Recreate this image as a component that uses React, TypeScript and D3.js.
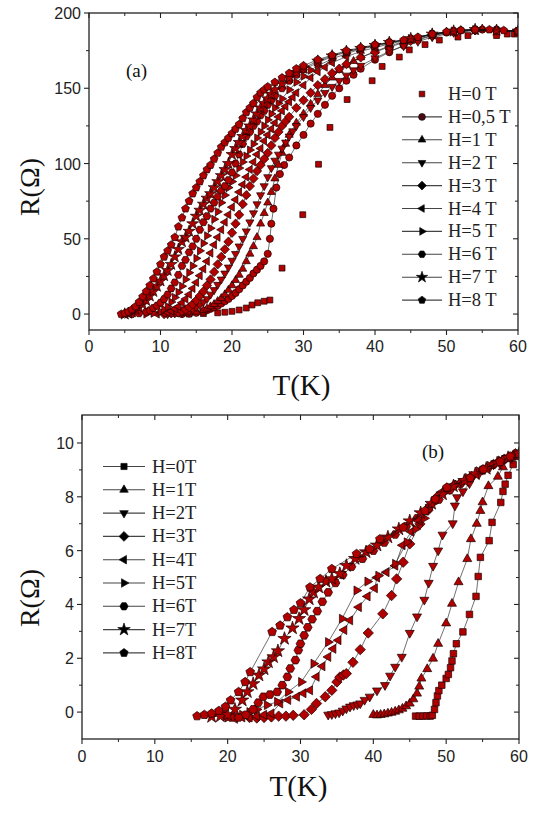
import React from 'react';
import * as d3 from 'd3';

type Pt = [number, number];

// ---------- panel (a): R (Ohm) vs T (K) ----------
const aLabels = ['H=0 T', 'H=0,5 T', 'H=1 T', 'H=2 T', 'H=3 T', 'H=4 T', 'H=5 T', 'H=6 T', 'H=7 T', 'H=8 T'];
const aShapes = ['square', 'circle', 'up', 'down', 'diamond', 'left', 'right', 'hexagon', 'star', 'pentagon'];

const aH0: Pt[] = [[14,0],[16,0.3],[18,0.8],[19,1.2],[20,1.8],[21,2.7],[22,4],[22.8,6],[23.6,7.5],[24.5,8.5],[25.3,9.3],[27,30.5],[29.9,66],[32.1,99.5],[33.7,124],[36.1,142.5],[39.6,155],[41,164.5],[43.4,170.7],[44.8,175.5],[47,179],[49,182],[51.6,184],[53,185],[57,185],[58.5,186],[59.5,186]];
const aH05: Pt[] = [[13,0],[14,0.3],[15,0.8],[16,1.5],[16.5,2.5],[17,3.5],[17.5,4.5],[18,5.5],[18.5,7],[19,8.5],[19.5,10],[20,12],[20.5,14],[21,16.5],[21.5,19],[22,21.5],[22.5,24],[23,27],[23.5,29.5],[24,32],[24.5,35],[25,40],[25.3,50],[25.5,60],[25.8,70],[26.2,84],[26.7,93],[27.3,99],[28,104],[29,112],[30,119],[31,126.5],[32,133],[33,139],[34,145],[35,150],[36,155],[37,159],[38,163],[40,169],[42,174],[44,178.5],[46,182],[48,185],[50,187],[52,188.5],[55,189],[57,188.5],[60,187.5]];
const aH1: Pt[] = [[12,0],[13,0.5],[14,1],[15,1.5],[16,2.5],[16.5,3.5],[17,5],[17.5,6.5],[18,8.5],[18.5,10.5],[19,13],[19.5,16],[20,19],[20.5,22.5],[21,26],[21.5,30],[22,35],[22.5,40],[23,45],[23.5,51],[24,60],[24.5,67],[25,74],[25.5,81],[26,90],[26.5,99],[27,107],[27.5,113],[28,119],[29,127],[30,133],[31,139.5],[32,146],[33,152],[34,157],[35,162],[36,165.5],[37,168],[38,170.5],[40,174.5],[42,178],[44,181],[46,183.5],[48,186],[50,187.5],[52,188.5],[55,189.5],[57,189],[60,188]];
const aH2: Pt[] = [[11,0],[12,0.5],[13,1],[14,2],[14.5,3],[15,4.5],[15.5,6],[16,8],[16.5,10],[17,13],[17.5,16],[18,19.5],[18.5,23],[19,27],[19.5,31],[20,35.5],[20.5,40],[21,45],[21.5,50],[22,55],[22.5,61],[23,67],[23.5,73],[24,79],[24.5,85],[25,91],[25.5,97],[26,102],[26.5,106],[27,110],[27.5,114],[28,118],[28.5,121.5],[29,125],[30,131],[31,137],[32,142],[33,147],[34,151],[35,155],[36,158.5],[37,162],[38,165],[40,170],[42,174.5],[44,178],[46,181],[48,184],[51,187],[54,188.5],[57,188.5],[60,188]];
const aH3: Pt[] = [[10.5,0],[11.5,0.5],[12.5,1],[13,2],[13.5,3],[14,4.5],[14.5,6.5],[15,9],[15.5,12],[16,15],[16.5,19],[17,23],[17.5,28],[18,33],[18.5,38],[19,43],[19.5,48],[20,54],[20.5,60],[21,66],[21.5,73],[22,79],[22.5,85],[23,90],[23.5,95],[24,99],[24.5,103],[25,107],[25.5,112],[26,117],[26.5,121],[27,125],[27.5,128],[28,131],[29,137],[30,142],[31,147],[32,152],[33,156],[34,160],[35,163],[36,166],[38,170.5],[40,174],[42,177.5],[45,181.5],[48,185],[51,187.5],[54,188.5],[57,188.5],[60,188]];
const aH4: Pt[] = [[9.5,0],[10.5,0.5],[11,1],[11.5,2],[12,3.5],[12.5,5],[13,7.5],[13.5,10],[14,13],[14.5,17],[15,21],[15.5,25.5],[16,30],[16.5,35],[17,40.5],[17.5,46],[18,51],[18.5,56],[19,61],[19.5,66],[20,71],[20.5,76],[21,81],[21.5,86],[22,91],[22.5,96],[23,101],[23.5,106],[24,110],[24.5,115],[25,119],[25.5,123],[26,127],[26.5,131],[27,135],[27.5,138],[28,141],[28.5,144],[29,147],[30,152],[31,157],[32,161],[33,164],[34,167],[36,171],[38,174.5],[40,177],[42,179.5],[45,182.5],[48,185.5],[51,187.5],[54,188.5],[57,188.5],[60,188]];
const aH5: Pt[] = [[8,0],[9,0.5],[10,1.5],[10.5,3],[11,5],[11.5,8],[12,11],[12.5,14.5],[13,18.5],[13.5,23],[14,27.5],[14.5,32],[15,37],[15.5,42],[16,47],[16.5,52],[17,57],[17.5,63],[18,68],[18.5,74],[19,79],[19.5,84],[20,88],[20.5,92],[21,97],[21.5,101],[22,105],[22.5,109],[23,113],[23.5,117],[24,121],[24.5,125],[25,129],[25.5,133],[26,137],[26.5,140],[27,143],[28,149],[29,154],[30,158],[31,162],[32,165],[34,169.5],[36,173],[38,176],[40,178],[42,180],[45,183],[48,186],[51,188],[54,189],[57,188.5],[60,188]];
const aH6: Pt[] = [[6,0],[7,0.5],[8,1.5],[8.5,2.5],[9,4],[9.5,5.5],[10,7.5],[10.5,10],[11,13],[11.5,17],[12,21],[12.5,26],[13,32],[13.5,36],[14,41],[14.5,45],[15,50],[15.5,56],[16,61],[16.5,65],[17,70],[17.5,74],[18,78],[18.5,82],[19,85],[19.5,89],[20,94],[20.5,100],[21,106],[21.5,113],[22,118],[22.5,121],[23,125],[23.5,128],[24,132],[24.5,135],[25,139],[25.5,142],[26,145],[27,150],[28,155],[29,159],[30,162.5],[32,167],[34,171],[36,174],[38,176.5],[40,178.5],[42,180.5],[45,183],[48,186],[51,188],[54,189],[57,188.5],[60,188]];
const aH7: Pt[] = [[5,0],[5.5,0.5],[6,1.5],[6.5,3],[7,4.5],[7.5,6.5],[8,9],[8.5,12],[9,15],[9.5,18.5],[10,22],[10.5,25.5],[11,29],[11.5,33],[12,38],[12.5,43],[13,48],[13.5,51],[14,55],[14.5,60],[15,65],[15.5,69],[16,73],[16.5,77],[17,80],[17.5,84],[18,88],[18.5,92],[19,96],[19.5,100],[20,106],[20.5,110],[21,114],[21.5,118],[22,122],[22.5,125],[23,129],[23.5,133],[24,137],[24.5,140],[25,143],[25.5,146],[26,149],[27,153],[28,157],[29,160.5],[30,163.5],[32,168],[34,171.5],[36,174.5],[38,176.5],[40,178.5],[42,180.5],[45,183],[48,186],[51,188],[54,189],[57,188.5],[60,188]];
const aH8: Pt[] = [[4.5,0],[5,0.5],[5.5,1.5],[6,3],[6.5,5],[7,8],[7.5,11.5],[8,15],[8.5,19],[9,23.5],[9.5,28],[10,33],[10.5,38],[11,42],[11.5,46],[12,51],[12.5,58],[13,64],[13.5,70],[14,75],[14.5,80],[15,84],[15.5,88],[16,92],[16.5,96],[17,99],[17.5,103],[18,107],[18.5,111],[19,114],[19.5,117],[20,120],[20.5,123],[21,126],[21.5,130],[22,134],[22.5,137],[23,140],[23.5,144],[24,147],[24.5,149],[25,151],[26,154],[27,157],[28,160],[29,163],[30,165],[32,169],[34,172],[36,175],[38,177],[40,179],[42,180.5],[44,182],[46,184],[48,186],[50,187.5],[52,188.5],[54,189],[56,189],[58,188.5],[60,188]];
const aSeries = [aH0, aH05, aH1, aH2, aH3, aH4, aH5, aH6, aH7, aH8];

// ---------- panel (b) ----------
const bLabels = ['H=0T', 'H=1T', 'H=2T', 'H=3T', 'H=4T', 'H=5T', 'H=6T', 'H=7T', 'H=8T'];
const bShapes = ['square', 'up', 'down', 'diamond', 'left', 'right', 'hexagon', 'star', 'pentagon'];

const bH0: Pt[] = [[45.8,-0.15],[46.3,-0.15],[46.8,-0.15],[47.3,-0.14],[47.8,-0.15],[48.1,-0.12],[48.4,0.1],[48.6,0.35],[48.8,0.6],[49,0.8],[49.4,1.0],[50,1.25],[50.3,1.4],[50.6,1.65],[50.8,1.9],[51,2.17],[51.4,2.54],[52.3,2.98],[53.2,3.63],[54.1,4.3],[54.4,5.04],[54.7,5.75],[55.9,6.37],[56.3,7.05],[57.5,7.79],[57.8,8.2],[58.1,8.47],[58.5,8.8],[59.2,9.2],[59.8,9.5]];
const bH1: Pt[] = [[40,-0.1],[40.5,-0.12],[41,-0.1],[41.5,-0.08],[42,-0.05],[42.5,-0.02],[43,0.02],[43.5,0.07],[44,0.13],[44.5,0.22],[45,0.32],[45.5,0.48],[46,0.69],[46.3,0.95],[46.6,1.25],[47.4,1.6],[48.2,1.99],[48.9,2.54],[50,3.3],[50.8,4.03],[51.7,4.83],[52.9,5.69],[53.4,6.43],[54.2,7.0],[54.7,7.48],[55,7.8],[55.8,8.4],[57.1,8.75],[57.8,9.1],[58.6,9.4],[59.5,9.55]];
const bH2: Pt[] = [[33.8,-0.1],[34.3,-0.08],[34.8,-0.05],[35.3,-0.02],[35.8,0.05],[36.3,0.13],[36.8,0.2],[37.3,0.25],[37.8,0.28],[38.2,0.32],[38.8,0.45],[39.5,0.57],[40.5,0.8],[41.6,1.0],[42.3,1.35],[43,1.68],[43.9,2.05],[45,2.94],[46,3.55],[47,4.17],[47.6,4.8],[48.2,5.43],[48.9,6.0],[49.5,6.59],[50.9,7.01],[51.2,7.67],[51.5,7.98],[52.3,8.2],[53.2,8.5],[54.5,8.85],[56,9.1],[57.5,9.3],[59,9.5]];
const bH3: Pt[] = [[23,-0.2],[24,-0.22],[25,-0.2],[26,-0.18],[27,-0.15],[28,-0.15],[29,-0.12],[30.5,-0.1],[31.5,0.1],[32.2,0.32],[33.4,0.57],[34.3,0.81],[35,1.12],[35.4,1.3],[35.9,1.38],[36.3,1.43],[37.2,1.85],[38.2,2.32],[39.3,2.94],[41.3,3.65],[42.5,4.33],[43.2,4.95],[44.1,5.57],[45,6.25],[46.4,6.99],[47.5,7.5],[48.7,7.98],[50.5,8.28],[52,8.5],[53.5,8.75],[55,9.0],[56.5,9.2],[58,9.4],[59.5,9.6]];
const bH4: Pt[] = [[21,-0.25],[22,-0.2],[23,-0.2],[24,-0.15],[25,-0.1],[26,-0.05],[27.2,0.32],[28.3,0.45],[29.5,0.57],[30.4,0.7],[31.3,0.81],[32.2,1.31],[33,1.7],[33.8,2.05],[34.5,2.35],[35.2,2.67],[36,3.05],[36.8,3.41],[38,3.9],[39.2,4.3],[40.2,4.6],[40.5,5.0],[41.8,5.2],[43,5.44],[44,6.2],[45.2,6.7],[46.4,7.1],[47.8,7.7],[49.5,8.2],[51,8.45],[53,8.7],[55,9.0],[57,9.3],[59,9.5]];
const bH5: Pt[] = [[20,-0.2],[21,-0.15],[22,-0.1],[23,0],[24,0.1],[25.4,0.26],[26.8,0.38],[28.3,0.75],[30.1,1.12],[31.8,1.8],[33.8,2.6],[35.7,3.47],[37.7,4.52],[39.2,4.85],[40.7,5.07],[43,5.51],[44.6,6.31],[45.8,6.8],[47,7.2],[48.5,7.8],[50,8.2],[51.5,8.45],[53,8.7],[54.5,8.95],[56,9.15],[57.5,9.35],[59,9.5]];
const bH6: Pt[] = [[19.5,-0.1],[20.5,-0.2],[21.5,-0.2],[22.5,-0.1],[23.5,0.1],[24.2,0.35],[24.9,0.57],[25.8,0.65],[26.8,0.75],[27.5,1.0],[28.2,1.31],[28.6,1.62],[29.3,1.93],[29.7,2.3],[30,2.54],[30.5,2.85],[31,3.15],[31.6,3.45],[32.3,3.75],[33,4.1],[33.8,4.45],[34.8,4.8],[35.8,5.1],[37,5.4],[38.5,5.7],[40,6.0],[41.5,6.3],[43,6.6],[44.5,6.9],[46,7.2],[47.5,7.55],[49,7.9],[50.5,8.25],[52,8.5],[53.5,8.75],[55,9.0],[56.5,9.2],[58,9.4],[59.5,9.6]];
const bH7: Pt[] = [[17.8,-0.17],[19,-0.15],[20,-0.1],[21,0.1],[22,0.44],[22.7,0.75],[23.5,1.05],[24.3,1.37],[25,1.6],[25.6,1.86],[26.3,2.05],[26.9,2.27],[27.8,2.73],[28.9,3.12],[29.8,3.47],[30.5,3.8],[31.2,4.2],[31.8,4.45],[32.5,4.64],[33.5,4.85],[34.3,4.95],[35.4,5.14],[36.3,5.44],[37.5,5.7],[39,5.95],[40.5,6.2],[42,6.5],[43.5,6.8],[45,7.1],[46.5,7.4],[48,7.75],[49.5,8.1],[51,8.4],[52.5,8.6],[54,8.85],[55.5,9.05],[57,9.25],[58.5,9.45],[60,9.6]];
const bH8: Pt[] = [[15.8,-0.15],[16.8,-0.1],[17.8,-0.05],[18.8,0.05],[19.7,0.2],[20.4,0.44],[21.5,0.75],[22.4,1.12],[23.1,1.49],[26.1,2.98],[27.2,3.22],[28.2,3.53],[29.1,3.8],[30,4.05],[31.3,4.64],[32.7,4.95],[34.3,5.32],[37.7,5.88],[39.5,6.06],[40.9,6.43],[44.1,6.86],[47.1,7.48],[48.5,7.91],[50.1,8.35],[53.3,8.7],[55.1,9.02],[57.4,9.3],[58.8,9.5],[60,9.6]];
const bSeries = [bH0, bH1, bH2, bH3, bH4, bH5, bH6, bH7, bH8];

// ticks
const xTicks = [0, 10, 20, 30, 40, 50, 60];
const xMinor = [5, 15, 25, 35, 45, 55];
const aYTicks = [0, 50, 100, 150, 200];
const aYMinor = [25, 75, 125, 175];
const bYTicks = [0, 2, 4, 6, 8, 10];
const bYMinor = [1, 3, 5, 7, 9];

const RED = '#b10000';
const SANS = "'Liberation Sans', Arial, sans-serif";
const SERIF = "'Liberation Serif', 'DejaVu Serif', serif";

function markerPath(shape: string, r: number): string {
  const poly = (n: number, rad: number, start: number) => {
    const p = d3.path();
    for (let i = 0; i < n; i++) {
      const a = start + (i * 2 * Math.PI) / n;
      if (i === 0) p.moveTo(rad * Math.cos(a), rad * Math.sin(a));
      else p.lineTo(rad * Math.cos(a), rad * Math.sin(a));
    }
    p.closePath();
    return p.toString();
  };
  switch (shape) {
    case 'square': return poly(4, r * 1.15, Math.PI / 4);
    case 'circle': return d3.symbol(d3.symbolCircle, Math.PI * r * r)() as string;
    case 'up': return poly(3, r * 1.3, -Math.PI / 2);
    case 'down': return poly(3, r * 1.3, Math.PI / 2);
    case 'left': return poly(3, r * 1.3, Math.PI);
    case 'right': return poly(3, r * 1.3, 0);
    case 'diamond': return poly(4, r * 1.3, 0);
    case 'hexagon': return poly(6, r * 1.1, 0);
    case 'pentagon': return poly(5, r * 1.15, -Math.PI / 2);
    case 'star': return d3.symbol(d3.symbolStar, r * r * 3.4)() as string;
    default: return '';
  }
}

type PanelProps = {
  id: string;
  box: { l: number; r: number; t: number; b: number };
  yDom: [number, number];
  yTicks: number[];
  yMinor: number[];
  series: Pt[][];
  shapes: string[];
  labels: string[];
  noLine: number[];
  r: number;
  legend: { x: number; y0: number; dy: number; lineL: number; lineR: number; tx: number };
  legendFill: (i: number) => string;
  tag: { text: string; x: number; y: number };
  xLabelY: number;
  yTitleY: number;
  xTitleY: number;
};

function Panel(p: PanelProps) {
  const { box } = p;
  const x = d3.scaleLinear().domain([0, 60]).range([box.l, box.r]);
  const y = d3.scaleLinear().domain(p.yDom).range([box.b, box.t]);
  const line = d3.line<Pt>().x(d => x(d[0])).y(d => y(d[1]));
  return (
    <g>
      <defs>
        <clipPath id={`clip-${p.id}`}>
          <rect x={box.l} y={box.t} width={box.r - box.l} height={box.b - box.t} />
        </clipPath>
      </defs>
      <g clipPath={`url(#clip-${p.id})`}>
        {p.series.map((s, i) => (
          <g key={i}>
            {!p.noLine.includes(i) && (
              <path d={line(s) || ''} fill="none" stroke="#111" strokeWidth={0.6} />
            )}
            {s.map((d, j) => (
              <path key={j} d={markerPath(p.shapes[i], p.r)} transform={`translate(${x(d[0])},${y(d[1])})`}
                fill={RED} stroke="#1a0000" strokeWidth={0.7} />
            ))}
          </g>
        ))}
      </g>
      <rect x={box.l} y={box.t} width={box.r - box.l} height={box.b - box.t} fill="none" stroke="#222" strokeWidth={1.3} />
      {xTicks.map(t => (
        <g key={`xt${t}`}>
          <line x1={x(t)} x2={x(t)} y1={box.b} y2={box.b + 5} stroke="#222" strokeWidth={1.1} />
          <line x1={x(t)} x2={x(t)} y1={box.t} y2={box.t + 5} stroke="#222" strokeWidth={1.1} />
          <text x={x(t)} y={p.xLabelY} textAnchor="middle" fontFamily={SANS} fontSize={16} fill="#222">{t}</text>
        </g>
      ))}
      {xMinor.map(t => (
        <g key={`xm${t}`}>
          <line x1={x(t)} x2={x(t)} y1={box.b} y2={box.b + 3} stroke="#222" strokeWidth={1} />
          <line x1={x(t)} x2={x(t)} y1={box.t} y2={box.t + 3} stroke="#222" strokeWidth={1} />
        </g>
      ))}
      {p.yTicks.map(t => (
        <g key={`yt${t}`}>
          <line x1={box.l - 5} x2={box.l} y1={y(t)} y2={y(t)} stroke="#222" strokeWidth={1.1} />
          <line x1={box.r - 5} x2={box.r} y1={y(t)} y2={y(t)} stroke="#222" strokeWidth={1.1} />
          <text x={box.l - 8} y={y(t) + 6} textAnchor="end" fontFamily={SANS} fontSize={16} fill="#222">{t}</text>
        </g>
      ))}
      {p.yMinor.map(t => (
        <g key={`ym${t}`}>
          <line x1={box.l - 3} x2={box.l} y1={y(t)} y2={y(t)} stroke="#222" strokeWidth={1} />
          <line x1={box.r - 3} x2={box.r} y1={y(t)} y2={y(t)} stroke="#222" strokeWidth={1} />
        </g>
      ))}
      <text transform={`translate(39,${p.yTitleY}) rotate(-90)`} textAnchor="middle" fontFamily={SERIF} fontSize={28} fill="#111">R(Ω)</text>
      <text x={(box.l + box.r) / 2 - 2} y={p.xTitleY} textAnchor="middle" fontFamily={SERIF} fontSize={29} fill="#111">T(K)</text>
      <text x={p.tag.x} y={p.tag.y} fontFamily={SERIF} fontSize={19} fill="#111">{p.tag.text}</text>
      {p.labels.map((lab, i) => {
        const ly = p.legend.y0 + i * p.legend.dy;
        return (
          <g key={lab}>
            {!p.noLine.includes(i) && (
              <line x1={p.legend.lineL} x2={p.legend.lineR} y1={ly} y2={ly} stroke="#444" strokeWidth={1.1} />
            )}
            <path d={markerPath(p.shapes[i], p.r * 0.95)} transform={`translate(${p.legend.x},${ly})`}
              fill={p.legendFill(i)} stroke="#111" strokeWidth={0.7} />
            <text x={p.legend.tx} y={ly + 6} fontFamily={SERIF} fontSize={18.5} fill="#222">{lab}</text>
          </g>
        );
      })}
    </g>
  );
}

export default function App() {
  return (
    <svg width={543} height={814} style={{ position: 'absolute', left: 0, top: 0, background: '#fff' }}>
      <rect width={543} height={814} fill="#fff" />
      <Panel
        id="a"
        box={{ l: 89, r: 518, t: 13, b: 330 }}
        yDom={[-10.6, 200]}
        yTicks={aYTicks}
        yMinor={aYMinor}
        series={aSeries}
        shapes={aShapes}
        labels={aLabels}
        noLine={[0]}
        r={3.6}
        legend={{ x: 422, y0: 94, dy: 22.9, lineL: 402, lineR: 442, tx: 448 }}
        legendFill={i => (i === 0 ? '#a00000' : i === 1 ? '#4a0812' : '#000')}
        tag={{ text: '(a)', x: 126, y: 77 }}
        xLabelY={352}
        yTitleY={187}
        xTitleY={395}
      />
      <Panel
        id="b"
        box={{ l: 82, r: 519, t: 415, b: 739 }}
        yDom={[-1, 11.04]}
        yTicks={bYTicks}
        yMinor={bYMinor}
        series={bSeries}
        shapes={bShapes}
        labels={bLabels}
        noLine={[]}
        r={4}
        legend={{ x: 124, y0: 466.5, dy: 23.3, lineL: 103, lineR: 145, tx: 152 }}
        legendFill={() => '#000'}
        tag={{ text: '(b)', x: 422, y: 458 }}
        xLabelY={762}
        yTitleY={598}
        xTitleY={796}
      />
    </svg>
  );
}
